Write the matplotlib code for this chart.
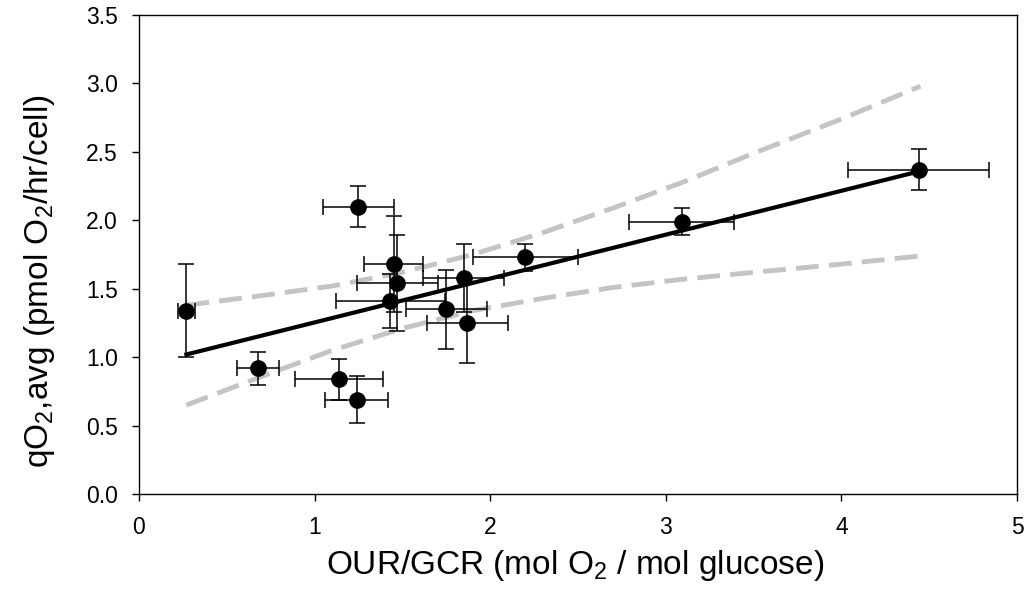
import numpy as np
import matplotlib
matplotlib.use("Agg")
import matplotlib.pyplot as plt

plt.rcParams['font.family'] = ['Liberation Sans', 'DejaVu Sans']
plt.rcParams['mathtext.fontset'] = 'custom'
plt.rcParams['mathtext.rm'] = 'Liberation Sans'

# measured points (OUR/GCR vs qO2,avg) with error bars
our_gcr = [0.27, 0.68, 1.25, 1.14, 1.24, 1.45, 1.47, 1.43, 1.75, 1.85, 1.87, 2.20, 3.09, 4.44]
q_o2 = [1.34, 0.92, 2.10, 0.84, 0.69, 1.68, 1.54, 1.41, 1.35, 1.58, 1.25, 1.73, 1.99, 2.37]
x_err = [0.05, 0.12, 0.20, 0.25, 0.18, 0.17, 0.23, 0.31, 0.23, 0.23, 0.23, 0.30, 0.30, 0.40]
y_err = [0.34, 0.12, 0.15, 0.15, 0.17, 0.35, 0.35, 0.20, 0.29, 0.25, 0.29, 0.10, 0.10, 0.15]

# regression line and confidence band
fit_x = [0.27, 4.45]
fit_y = [1.02, 2.36]
band_x = [0.27, 0.7, 1.1, 1.5, 1.9, 2.3, 2.7, 3.1, 3.5, 4.0, 4.45]
band_hi = [1.38, 1.45, 1.52, 1.62, 1.75, 1.91, 2.09, 2.28, 2.49, 2.74, 2.98]
band_lo = [0.65, 0.86, 1.05, 1.21, 1.34, 1.43, 1.51, 1.57, 1.62, 1.68, 1.74]

fig = plt.figure(figsize=(10.24, 5.96), dpi=100)
ax = fig.add_axes([0.1357, 0.171, 0.8575, 0.8038])

gray = '#c4c4c4'
ax.plot(band_x, band_hi, color=gray, lw=3.5, dashes=(4.7, 2.1), zorder=1)
ax.plot(band_x, band_lo, color=gray, lw=3.5, dashes=(4.7, 2.1), zorder=1)
ax.plot(fit_x, fit_y, color='black', lw=3, zorder=2)

ax.errorbar(our_gcr, q_o2, xerr=x_err, yerr=y_err, fmt='o', color='black',
            ms=11, elinewidth=1.1, capsize=6, capthick=1.1, zorder=3)

ax.set_xlim(0, 5)
ax.set_ylim(0, 3.5)
ax.set_xticks([0, 1, 2, 3, 4, 5])
ax.set_yticks(np.arange(0, 3.51, 0.5))
ax.set_yticklabels(['%.1f' % v for v in np.arange(0, 3.51, 0.5)])
ax.tick_params(direction='out', length=5, width=1, labelsize=16.5,
               top=False, right=False)
ax.tick_params(axis='y', pad=10)
ax.tick_params(axis='x', pad=11)
for s in ax.spines.values():
    s.set_linewidth(1)

ax.set_xlabel('OUR/GCR (mol O$_2$ / mol glucose)', fontsize=24)
ax.set_ylabel('qO$_2$,avg (pmol O$_2$/hr/cell)', fontsize=24)
ax.xaxis.set_label_coords(0.497, -0.112)
ax.yaxis.set_label_coords(-0.093, 0.445)

fig.savefig('out.png', dpi=100)
